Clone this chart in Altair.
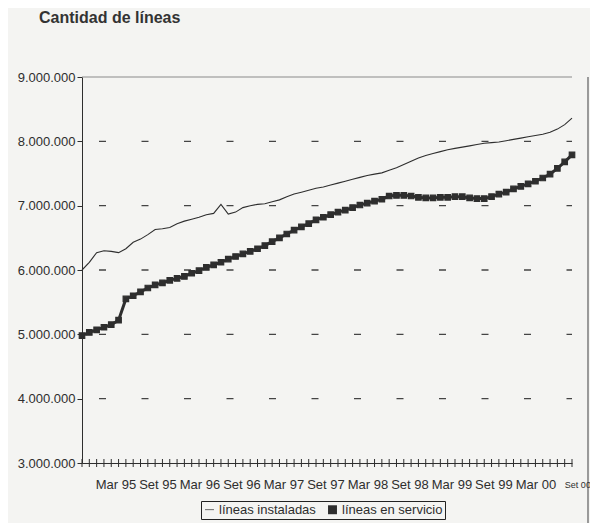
import altair as alt
import pandas as pd

# ---- data (millions of lines, monthly Mar 95 .. Oct 00)
instaladas = [6.00, 6.12, 6.27, 6.30, 6.29, 6.27, 6.33, 6.43, 6.48, 6.55,
              6.63, 6.64, 6.66, 6.72, 6.76, 6.79, 6.82, 6.86, 6.88, 7.02,
              6.87, 6.90, 6.97, 7.00, 7.02, 7.03, 7.06, 7.09, 7.14, 7.18,
              7.21, 7.24, 7.27, 7.29, 7.32, 7.35, 7.38, 7.41, 7.44, 7.47,
              7.49, 7.51, 7.55, 7.59, 7.64, 7.69, 7.74, 7.78, 7.81, 7.84,
              7.87, 7.89, 7.91, 7.93, 7.95, 7.97, 7.98, 7.99, 8.01, 8.03,
              8.05, 8.07, 8.09, 8.11, 8.14, 8.19, 8.26, 8.36]
servicio = [4.98, 5.03, 5.07, 5.11, 5.15, 5.22, 5.55, 5.60, 5.66, 5.72,
            5.77, 5.80, 5.84, 5.87, 5.90, 5.95, 5.99, 6.04, 6.08, 6.12,
            6.17, 6.21, 6.25, 6.29, 6.33, 6.38, 6.44, 6.50, 6.56, 6.62,
            6.67, 6.72, 6.78, 6.82, 6.86, 6.90, 6.93, 6.97, 7.01, 7.04,
            7.07, 7.10, 7.15, 7.16, 7.16, 7.15, 7.13, 7.12, 7.12, 7.13,
            7.13, 7.14, 7.14, 7.12, 7.11, 7.11, 7.14, 7.18, 7.21, 7.26,
            7.30, 7.34, 7.38, 7.43, 7.49, 7.58, 7.68, 7.79]
x_labels = ["Mar 95", "Set 95", "Mar 96", "Set 96", "Mar 97", "Set 97",
            "Mar 98", "Set 98", "Mar 99", "Set 99", "Mar 00", "Set 00"]
y_ticks = [3000000, 4000000, 5000000, 6000000, 7000000, 8000000, 9000000]
grid_dashed = [4000000, 5000000, 6000000, 7000000, 8000000]
grid_top = [9000000]
series_names = ["líneas instaladas", "líneas en servicio"]

n = len(instaladas)
rows = []
for i in range(n):
    rows.append({"i": i, "serie": series_names[0], "v": instaladas[i] * 1e6})
    rows.append({"i": i, "serie": series_names[1], "v": servicio[i] * 1e6})
df = pd.DataFrame(rows)
months = pd.DataFrame({"i": list(range(n))})
lab = pd.DataFrame({"k": list(range(len(x_labels))), "t": x_labels})

W, H = 490, 386
INK = "#2e2e2e"
FONT = "Liberation Sans, Arial, sans-serif"

xsc = alt.Scale(domain=[0, n - 1], nice=False, zero=False)
ysc = alt.Scale(domain=[3000000, 9000000], nice=False, zero=False)

yaxis = alt.Axis(values=y_ticks, grid=False, tickSize=5, tickColor=INK,
                 domainColor=INK, labelColor=INK, labelFont=FONT, labelFontSize=13,
                 labelPadding=2, title=None,
                 labelExpr="floor(datum.value/1000000) + '.000.000'")

base = alt.Chart(df)

grid1 = alt.Chart(pd.DataFrame({"g": grid_dashed})).mark_rule(
    color="#444", strokeWidth=1.4, strokeDash=[7, 35.5], strokeDashOffset=1.5
).encode(y=alt.Y("g:Q", scale=ysc, axis=yaxis))

grid2 = alt.Chart(pd.DataFrame({"g": grid_top})).mark_rule(
    color="#8a8a8a", strokeWidth=1
).encode(y=alt.Y("g:Q", scale=ysc, axis=yaxis))

ticks = alt.Chart(months).mark_rule(color=INK, strokeWidth=1).encode(
    x=alt.X("i:Q", scale=xsc,
            axis=alt.Axis(labels=False, ticks=False, grid=False, domain=True,
                          domainColor=INK, title=None)),
    y=alt.value(H - 4), y2=alt.value(H + 4)
)

# scanned page edge on the right
edge = alt.Chart(months).mark_rule(color="#9a9a9a", strokeWidth=1.2).encode(
    x=alt.value(W + 16), y=alt.value(0), y2=alt.value(H + 60)
)

line_inst = base.transform_filter(alt.datum.serie == series_names[0]).mark_line(
    color=INK, strokeWidth=1.1
).encode(
    x=alt.X("i:Q", scale=xsc, axis=None),
    y=alt.Y("v:Q", scale=ysc, axis=yaxis),
)

line_serv = base.transform_filter(alt.datum.serie == series_names[1]).mark_line(
    color=INK, strokeWidth=3
).encode(
    x=alt.X("i:Q", scale=xsc, axis=None),
    y=alt.Y("v:Q", scale=ysc, axis=yaxis),
)

pts = base.transform_filter(alt.datum.serie == series_names[1]).mark_point(
    filled=True, opacity=1, size=30, stroke=INK, strokeWidth=1.2
).encode(
    x=alt.X("i:Q", scale=xsc, axis=None),
    y=alt.Y("v:Q", scale=ysc, axis=yaxis),
    shape=alt.Shape("serie:N",
                    scale=alt.Scale(domain=series_names,
                                    range=["M-1,-0.08L1,-0.08L1,0.08L-1,0.08Z", "square"]),
                    legend=alt.Legend(title=None, orient="none", direction="horizontal",
                                      legendX=119, legendY=H + 38,
                                      strokeColor="#222", padding=2,
                                      labelFont=FONT, labelFontSize=13, labelColor=INK,
                                      symbolStrokeColor=INK, symbolFillColor=INK,
                                      symbolStrokeWidth=1, symbolSize=80,
                                      columnPadding=10, labelOffset=3)),
    color=alt.value(INK),
)

labels = alt.Chart(lab).mark_text(
    font=FONT, color=INK, baseline="middle", align="center"
).encode(
    x=alt.X("k:Q", scale=alt.Scale(domain=[-0.81, 10.86], nice=False, zero=False), axis=None),
    y=alt.value(H + 22),
    text="t:N",
    size=alt.condition("datum.k == 11", alt.value(9), alt.value(13)),
)

chart = alt.layer(grid1, grid2, ticks, edge, line_inst, line_serv, pts, labels).resolve_scale(
    x="independent"
).properties(
    width=W, height=H, background="#f4f4f2",
    autosize=alt.AutoSizeParams(type="none"),
    padding={"left": 74, "top": 69, "right": 18, "bottom": 60},
    title=alt.TitleParams("Cantidad de líneas", anchor="start", frame="group", dx=-43,
                          offset=45, font=FONT, fontSize=16,
                          fontWeight="bold", color="#333"),
).configure_view(stroke=None)

chart.save("out.html", embed_options={"renderer": "svg", "actions": False})
